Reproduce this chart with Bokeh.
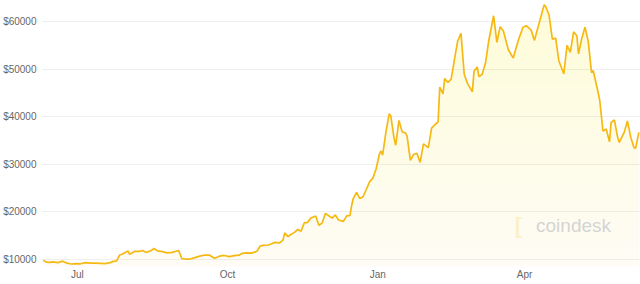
import numpy as np
import pandas as pd
from bokeh.plotting import figure
from bokeh.models import FixedTicker, Range1d, Label
from bokeh.embed import file_html
from bokeh.resources import INLINE

dates = [
    "2020-06-10", "2020-06-12", "2020-06-14", "2020-06-16", "2020-06-19", "2020-06-22", "2020-06-24",
    "2020-06-27", "2020-06-30", "2020-07-03", "2020-07-06", "2020-07-09", "2020-07-12", "2020-07-15",
    "2020-07-18", "2020-07-21", "2020-07-23", "2020-07-25", "2020-07-27", "2020-07-28", "2020-08-01",
    "2020-08-02", "2020-08-05", "2020-08-08", "2020-08-10", "2020-08-12", "2020-08-15", "2020-08-17",
    "2020-08-19", "2020-08-22", "2020-08-25", "2020-08-28", "2020-09-01", "2020-09-03", "2020-09-05",
    "2020-09-08", "2020-09-11", "2020-09-14", "2020-09-17", "2020-09-20", "2020-09-23", "2020-09-26",
    "2020-09-29", "2020-10-02", "2020-10-05", "2020-10-08", "2020-10-10", "2020-10-13", "2020-10-16",
    "2020-10-19", "2020-10-21", "2020-10-23", "2020-10-26", "2020-10-28", "2020-10-30", "2020-11-02",
    "2020-11-04", "2020-11-05", "2020-11-07", "2020-11-09", "2020-11-11", "2020-11-13", "2020-11-15",
    "2020-11-17", "2020-11-19", "2020-11-21", "2020-11-24", "2020-11-26", "2020-11-28", "2020-11-30",
    "2020-12-02", "2020-12-04", "2020-12-06", "2020-12-08", "2020-12-11", "2020-12-13", "2020-12-15",
    "2020-12-16", "2020-12-17", "2020-12-19", "2020-12-21", "2020-12-23", "2020-12-25", "2020-12-27",
    "2020-12-29", "2020-12-31", "2021-01-02", "2021-01-03", "2021-01-04", "2021-01-06", "2021-01-08",
    "2021-01-09", "2021-01-11", "2021-01-12", "2021-01-14", "2021-01-16", "2021-01-18", "2021-01-19",
    "2021-01-21", "2021-01-23", "2021-01-25", "2021-01-27", "2021-01-29", "2021-02-01", "2021-02-03",
    "2021-02-05", "2021-02-07", "2021-02-08", "2021-02-10", "2021-02-11", "2021-02-13", "2021-02-15",
    "2021-02-17", "2021-02-19", "2021-02-21", "2021-02-23", "2021-02-25", "2021-02-28", "2021-03-01",
    "2021-03-03", "2021-03-04", "2021-03-06", "2021-03-08", "2021-03-10", "2021-03-13", "2021-03-15",
    "2021-03-17", "2021-03-19", "2021-03-22", "2021-03-25", "2021-03-28", "2021-03-31", "2021-04-02",
    "2021-04-05", "2021-04-07", "2021-04-10", "2021-04-13", "2021-04-14", "2021-04-16", "2021-04-18",
    "2021-04-20", "2021-04-22", "2021-04-25", "2021-04-27", "2021-04-29", "2021-05-01", "2021-05-03",
    "2021-05-04", "2021-05-06", "2021-05-08", "2021-05-10", "2021-05-12", "2021-05-13", "2021-05-15",
    "2021-05-17", "2021-05-19", "2021-05-21", "2021-05-23", "2021-05-24", "2021-05-26", "2021-05-28",
    "2021-05-29", "2021-06-01", "2021-06-03", "2021-06-05", "2021-06-07", "2021-06-08", "2021-06-10",
]
prices = [
    9850, 9450, 9400, 9500, 9350, 9650, 9300,
    9050, 9150, 9100, 9350, 9250, 9250, 9200,
    9150, 9350, 9600, 9700, 11000, 11050, 11800,
    11100, 11700, 11700, 11900, 11500, 11850, 12300,
    11800, 11650, 11400, 11500, 11900, 10200, 10100,
    10100, 10400, 10700, 10950, 10900, 10250, 10700,
    10850, 10600, 10800, 10900, 11300, 11400, 11350,
    11750, 12850, 12950, 13050, 13300, 13600, 13500,
    14100, 15600, 14800, 15300, 15700, 16300, 15950,
    17700, 17800, 18700, 19150, 17150, 17700, 19700,
    19200, 18700, 19350, 18300, 18000, 19150, 19250,
    21300, 22800, 24100, 22800, 23200, 24700, 26300,
    27100, 29000, 32100, 32800, 31900, 36700, 40600,
    40200, 35500, 34000, 39200, 36800, 36600, 35900,
    30800, 32100, 32300, 30400, 34300, 33500, 37600,
    38300, 38900, 46200, 44800, 48000, 47200, 47900,
    52000, 55900, 57500, 48900, 47000, 45200, 49600,
    50400, 48400, 48900, 51200, 55900, 61200, 55600,
    58900, 58000, 54100, 52300, 55900, 58800, 59100,
    58200, 56000, 59800, 63500, 63100, 61300, 56300,
    56500, 51700, 49000, 55000, 53500, 57800, 57000,
    53200, 56400, 58800, 55800, 49200, 49700, 46700,
    43500, 37000, 37400, 34700, 38800, 39300, 35700,
    34600, 36700, 39100, 35700, 33500, 33400, 36700,
]

y_ticks = [10000, 20000, 30000, 40000, 50000, 60000]
y_tick_labels = ["$10000", "$20000", "$30000", "$40000", "$50000", "$60000"]
x_tick_dates = ["2020-07-01", "2020-10-01", "2021-01-01", "2021-04-01"]
x_tick_labels = ["Jul", "Oct", "Jan", "Apr"]


def ms(d):
    return pd.Timestamp(d).value / 1e6


x = np.array([ms(d) for d in dates])
y = np.array(prices, dtype=float)

y_lo, y_hi = 8530, 64400
p = figure(width=640, height=284, x_axis_type="datetime", output_backend="svg",
           toolbar_location=None,
           x_range=Range1d(ms("2020-06-09"), ms("2021-06-11")),
           y_range=Range1d(y_lo, y_hi),
           min_border_left=40, min_border_bottom=18, min_border_top=0, min_border_right=0)
p.outline_line_color = None
p.background_fill_color = "white"
p.border_fill_color = "white"

# vertical gradient fill under the line, emulated by stacked translucent bands
p.varea(x=x, y1=np.full_like(y, y_lo), y2=y, fill_color="#f5bb40", fill_alpha=0.05)
levels = np.linspace(y_lo, y_hi, 30)
for t in levels:
    p.varea(x=x, y1=np.full_like(y, t), y2=np.maximum(y, t),
            fill_color="#f5bb40", fill_alpha=0.0042)

p.line(x, y, line_color="#f6b914", line_width=1.7)

# axes
p.xgrid.grid_line_color = None
p.ygrid.grid_line_color = "#efefef"
p.ygrid.ticker = FixedTicker(ticks=y_ticks)

ya = p.yaxis[0]
ya.ticker = FixedTicker(ticks=y_ticks)
ya.major_label_overrides = {t: l for t, l in zip(y_ticks, y_tick_labels)}
xa = p.xaxis[0]
xt = [ms(d) for d in x_tick_dates]
xa.ticker = FixedTicker(ticks=xt)
xa.major_label_overrides = {t: l for t, l in zip(xt, x_tick_labels)}

for ax in (xa, ya):
    ax.axis_line_color = None
    ax.major_tick_line_color = None
    ax.minor_tick_line_color = None
    ax.major_tick_in = 0
    ax.major_tick_out = 0
    ax.minor_tick_out = 0
    ax.major_label_text_color = "#666666"
    ax.major_label_text_font = "Liberation Sans"
    ax.major_label_text_font_size = "10px"
ya.major_label_standoff = 5
xa.major_label_standoff = 2

# watermark
p.add_layout(Label(x=ms("2021-04-08"), y=17140, text="coindesk", text_color="#d4d4d4",
                   text_font="Liberation Sans", text_font_size="19px", text_baseline="middle"))
p.add_layout(Label(x=ms("2021-03-26"), y=17140, text="[", text_color="#fcf0c6",
                   text_font="Liberation Sans", text_font_size="22px", text_font_style="bold",
                   text_baseline="middle"))

open("out.html", "w").write(file_html(p, INLINE))
